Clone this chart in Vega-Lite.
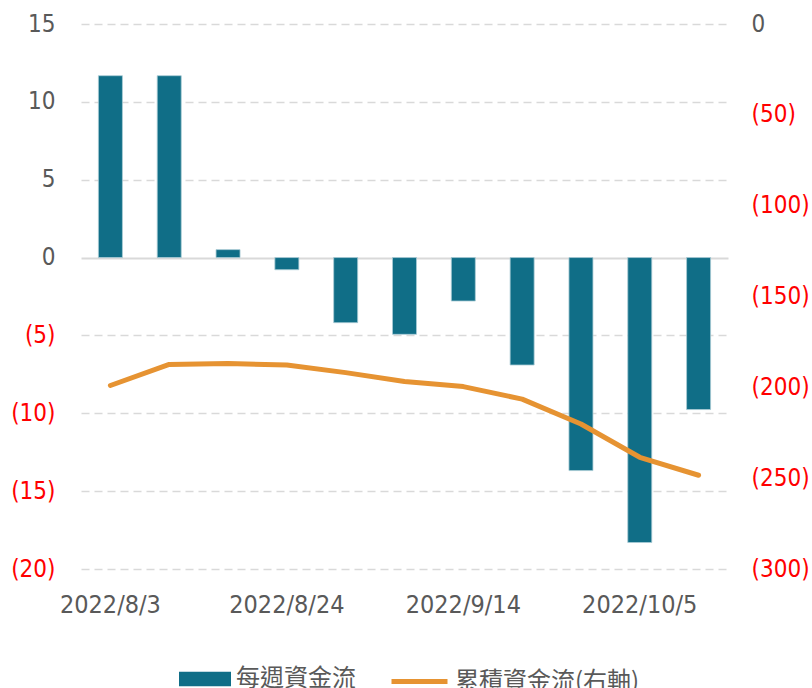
{
  "$schema": "https://vega.github.io/schema/vega-lite/v6.json",
  "width": 647,
  "height": 545,
  "autosize": "none",
  "padding": {"left": 81, "top": 24, "right": 84, "bottom": 119},
  "background": "white",
  "config": {
    "view": {"stroke": null},
    "font": "DejaVu Sans Condensed, DejaVu Sans",
    "axis": {"labelFont": "DejaVu Sans Condensed, DejaVu Sans"}
  },
  "data": {
    "values": [
      {"date": "2022/8/3", "weekly": 11.68, "cum": -199.0},
      {"date": "2022/8/10", "weekly": 11.68, "cum": -187.4},
      {"date": "2022/8/17", "weekly": 0.51, "cum": -186.9},
      {"date": "2022/8/24", "weekly": -0.78, "cum": -187.7},
      {"date": "2022/8/31", "weekly": -4.18, "cum": -191.9},
      {"date": "2022/9/7", "weekly": -4.93, "cum": -196.8},
      {"date": "2022/9/14", "weekly": -2.79, "cum": -199.6},
      {"date": "2022/9/21", "weekly": -6.9, "cum": -206.5},
      {"date": "2022/9/28", "weekly": -13.68, "cum": -220.2},
      {"date": "2022/10/5", "weekly": -18.3, "cum": -238.5},
      {"date": "2022/10/12", "weekly": -9.76, "cum": -248.4}
    ]
  },
  "encoding": {
    "x": {
      "field": "date",
      "type": "ordinal",
      "sort": null,
      "scale": {"paddingInner": 0, "paddingOuter": 0},
      "axis": {
        "values": ["2022/8/3", "2022/8/24", "2022/9/14", "2022/10/5"],
        "labelAngle": 0,
        "title": null,
        "domain": false,
        "ticks": false,
        "grid": false,
        "labelPadding": 23,
        "labelFontSize": 25,
        "labelColor": "#595959"
      }
    }
  },
  "layer": [
    {
      "mark": {"type": "bar", "width": 24, "stroke": "#a9cbd5", "strokeWidth": 0.8},
      "encoding": {
        "y": {
          "field": "weekly",
          "type": "quantitative",
          "scale": {"domain": [-20, 15], "nice": false},
          "axis": {
            "orient": "left",
            "title": null,
            "values": [-20, -15, -10, -5, 0, 5, 10, 15],
            "labelExpr": "datum.value < 0 ? '(' + format(-datum.value, 'd') + ')' : format(datum.value, 'd') + '\u2009'",
            "labelColor": {"condition": {"test": "datum.value < 0", "value": "#ff0000"}, "value": "#595959"},
            "labelFontSize": 24,
            "labelPadding": 26,
            "domain": false,
            "ticks": false,
            "grid": true,
            "gridColor": "#d9d9d9",
            "gridWidth": {"condition": {"test": "datum.value === 0", "value": 2}, "value": 1.5},
            "gridDash": {"condition": {"test": "datum.value === 0", "value": []}, "value": [8, 5]}
          }
        },
        "fill": {
          "datum": "每週資金流",
          "scale": {"range": ["#106e87"]},
          "legend": {
            "orient": "none",
            "legendX": 98,
            "legendY": 629,
            "title": null,
            "symbolType": "M-1,-0.277H1V0.277H-1Z",
            "symbolSize": 2704,
            "symbolStrokeWidth": 0,
            "labelFont": "Noto Sans CJK TC",
            "labelFontSize": 24,
            "labelColor": "#595959",
            "labelOffset": 5,
            "labelLimit": 0
          }
        }
      }
    },
    {
      "mark": {"type": "line", "strokeWidth": 5, "strokeCap": "round", "strokeJoin": "round"},
      "encoding": {
        "y": {
          "field": "cum",
          "type": "quantitative",
          "scale": {"domain": [-300, 0], "nice": false},
          "axis": {
            "orient": "right",
            "title": null,
            "values": [-300, -250, -200, -150, -100, -50, 0],
            "labelExpr": "datum.value < 0 ? '(' + format(-datum.value, 'd') + ')' : format(datum.value, 'd')",
            "labelColor": {"condition": {"test": "datum.value < 0", "value": "#ff0000"}, "value": "#595959"},
            "labelFontSize": 24,
            "labelPadding": 23,
            "domain": false,
            "ticks": false,
            "grid": false
          }
        },
        "stroke": {
          "datum": "累積資金流(右軸)",
          "scale": {"range": ["#e69332"]},
          "legend": {
            "orient": "none",
            "legendX": 308,
            "legendY": 627,
            "title": null,
            "symbolType": "stroke",
            "symbolSize": 3136,
            "symbolStrokeWidth": 5,
            "labelFont": "Noto Sans CJK TC",
            "labelFontSize": 24,
            "labelColor": "#595959",
            "labelOffset": 5,
            "labelLimit": 0
          }
        }
      }
    }
  ],
  "resolve": {"scale": {"y": "independent"}}
}
